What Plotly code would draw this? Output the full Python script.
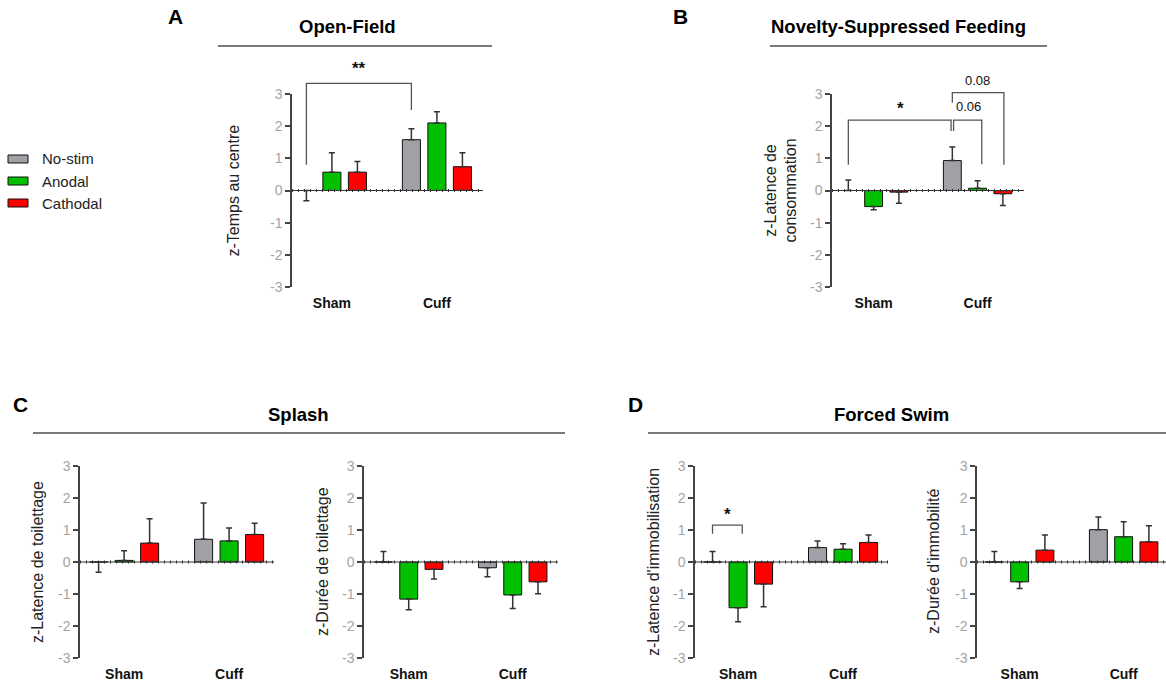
import plotly.graph_objects as go

# ---------------- data ----------------
groups = ["Sham", "Cuff"]
series = ["No-stim", "Anodal", "Cathodal"]

# rows = series (No-stim, Anodal, Cathodal), columns = groups (Sham, Cuff)
open_field_mean = [[0.00, 1.58], [0.57, 2.10], [0.57, 0.74]]
open_field_tip = [[-0.32, 1.92], [1.17, 2.45], [0.90, 1.17]]

nsf_mean = [[0.00, 0.93], [-0.50, 0.07], [-0.05, -0.10]]
nsf_tip = [[0.33, 1.35], [-0.60, 0.30], [-0.40, -0.47]]

splash_lat_mean = [[0.00, 0.71], [0.05, 0.66], [0.59, 0.86]]
splash_lat_tip = [[-0.32, 1.84], [0.35, 1.06], [1.35, 1.21]]

splash_dur_mean = [[0.00, -0.18], [-1.16, -1.03], [-0.23, -0.62]]
splash_dur_tip = [[0.33, -0.46], [-1.49, -1.45], [-0.53, -0.99]]

fst_lat_mean = [[0.00, 0.45], [-1.43, 0.40], [-0.69, 0.61]]
fst_lat_tip = [[0.33, 0.66], [-1.87, 0.57], [-1.40, 0.84]]

fst_dur_mean = [[0.00, 1.01], [-0.62, 0.79], [0.37, 0.63]]
fst_dur_tip = [[0.33, 1.41], [-0.83, 1.26], [0.84, 1.13]]

y_ticks = [-3, -2, -1, 0, 1, 2, 3]
y_tick_text = ["-3", "-2", "-1", "0", "1", "2", "3"]

# ---------------- style ----------------
W, H = 1166, 683
FONT = "Arial, Liberation Sans, sans-serif"
colors = ["#A0A0A6", "#00C000", "#FF0000"]
offsets = [-0.243, 0.0, 0.243]
BAR_W = 0.172
AX_COL = "#444444"
TICK_COL = "#A3A3A3"
BR_COL = "#555555"


def px(x):
    return x / W


def py(y):
    return 1 - y / H


# panel geometry in pixels: axis left, axis right, y of +3, y of -3, x-range left, px per group
panels = [
    dict(name="A", mean=open_field_mean, tip=open_field_tip, xl=292, xr=483, ytop=94, ybot=287, left=-0.38, unit=105,
         ylabel="z-Temps au centre", ylx=233),
    dict(name="B", mean=nsf_mean, tip=nsf_tip, xl=832, xr=1024, ytop=94, ybot=287, left=-0.40, unit=104,
         ylabel="z-Latence de<br>consommation", ylx=780),
    dict(name="Cl", mean=splash_lat_mean, tip=splash_lat_tip, xl=80, xr=274, ytop=466, ybot=658, left=-0.42, unit=105,
         ylabel="z-Latence de toilettage", ylx=37),
    dict(name="Cr", mean=splash_dur_mean, tip=splash_dur_tip, xl=364, xr=558, ytop=466, ybot=658, left=-0.43, unit=104,
         ylabel="z-Durée de toilettage", ylx=322),
    dict(name="Dl", mean=fst_lat_mean, tip=fst_lat_tip, xl=695, xr=888, ytop=466, ybot=658, left=-0.41, unit=105,
         ylabel="z-Latence d'immobilisation", ylx=653),
    dict(name="Dr", mean=fst_dur_mean, tip=fst_dur_tip, xl=977, xr=1166, ytop=466, ybot=658, left=-0.41, unit=104,
         ylabel="z-Durée d'immobilité", ylx=933),
]

fig = go.Figure()
layout = dict(
    template="none",
    width=W, height=H, margin=dict(l=0, r=0, t=0, b=0, pad=0, autoexpand=False),
    paper_bgcolor="white", plot_bgcolor="rgba(0,0,0,0)",
    barmode="overlay", showlegend=False,
    font=dict(family=FONT, color="#222222"),
)
shapes = []
annotations = []


def bar_x(g, s):
    return g + offsets[s]


for i, p in enumerate(panels, start=1):
    xa = "x" if i == 1 else f"x{i}"
    ya = "y" if i == 1 else f"y{i}"
    xrng = [p["left"], p["left"] + (p["xr"] - p["xl"]) / p["unit"]]
    p["xrng"] = xrng
    layout[f"xaxis{i if i > 1 else ''}"] = dict(
        domain=[px(p["xl"]), px(p["xr"])], range=xrng, anchor=ya, automargin=False,
        showline=False, zeroline=False, showgrid=False, ticks="", ticklabelstandoff=6,
        tickvals=list(range(len(groups))), ticktext=groups,
        tickfont=dict(family=FONT, size=14, color="#111111", weight="bold"),
        fixedrange=True,
    )
    layout[f"yaxis{i if i > 1 else ''}"] = dict(
        domain=[py(p["ybot"]), py(p["ytop"])], range=[-3, 3], anchor=xa, automargin=False,
        showline=True, linecolor=AX_COL, linewidth=1.5, zeroline=False, showgrid=False,
        ticks="outside", ticklen=5, tickwidth=1.5, tickcolor=AX_COL,
        tickvals=y_ticks, ticktext=y_tick_text, tickfont=dict(family=FONT, size=14, color=TICK_COL),
        fixedrange=True,
    )
    for s, name in enumerate(series):
        means = p["mean"][s]
        tips = p["tip"][s]
        up = [max(t - m, 0) for m, t in zip(means, tips)]
        dn = [max(m - t, 0) for m, t in zip(means, tips)]
        fig.add_trace(go.Bar(
            x=[bar_x(g, s) for g in range(len(groups))], y=means, width=BAR_W,
            name=name, xaxis=xa, yaxis=ya,
            marker=dict(color=colors[s], line=dict(color="#111111", width=1)),
            error_y=dict(type="data", symmetric=False, array=up, arrayminus=dn,
                         color="#333333", thickness=1.5, width=3),
            hoverinfo="skip",
        ))
    # baseline at zero (dotted GraphPad style)
    shapes.append(dict(type="line", xref=xa, yref=ya, x0=xrng[0], x1=xrng[1], y0=0, y1=0,
                       line=dict(color="#333333", width=1), layer="above"))
    shapes.append(dict(type="line", xref=xa, yref=ya, x0=xrng[0], x1=xrng[1], y0=0, y1=0,
                       line=dict(color="#333333", width=3, dash="1px,5px"), layer="above"))
    # y-axis label
    annotations.append(dict(
        text=p["ylabel"], x=px(p["ylx"]), y=py((p["ytop"] + p["ybot"]) / 2), xref="paper", yref="paper",
        textangle=-90, showarrow=False, xanchor="center", yanchor="middle",
        font=dict(family=FONT, size=16, color="#222222")))

# ---------------- significance brackets (overlay axes, taller range) ----------------
bracket_panels = {0: 7, 1: 8, 4: 9}
for pi, ax in bracket_panels.items():
    p = panels[pi]
    unit = (py(p["ytop"]) - py(p["ybot"])) / 6
    d0 = py(p["ybot"])
    layout[f"xaxis{ax}"] = dict(domain=[px(p["xl"]), px(p["xr"])], range=p["xrng"], anchor=f"y{ax}",
                               visible=False, fixedrange=True, automargin=False)
    layout[f"yaxis{ax}"] = dict(domain=[d0, d0 + unit * 7.4], range=[-3, 4.4], anchor=f"x{ax}",
                               visible=False, fixedrange=True, automargin=False)


def bracket(ax, xs, ys):
    fig.add_trace(go.Scatter(x=xs, y=ys, mode="lines", xaxis=f"x{ax}", yaxis=f"y{ax}",
                             line=dict(color=BR_COL, width=1.3), hoverinfo="skip", showlegend=False))


def btext(ax, x, y, t, size, bold):
    annotations.append(dict(text=t, x=x, y=y, xref=f"x{ax}", yref=f"y{ax}", showarrow=False,
                            font=dict(family=FONT, size=size, color="#111111",
                                      weight="bold" if bold else "normal")))


# A: Sham no-stim vs Cuff no-stim
xa0, xa1 = bar_x(0, 0), bar_x(1, 0)
bracket(7, [xa0, xa0, xa1, xa1], [0.8, 3.33, 3.33, 2.5])
btext(7, (xa0 + xa1) / 2, 3.78, "**", 17, True)

# B
xb0, xb1 = bar_x(0, 0), bar_x(1, 0)
bracket(8, [xb0, xb0, xb1 - 0.012, xb1 - 0.012], [0.8, 2.19, 2.19, 1.85])
btext(8, (xb0 + xb1) / 2, 2.55, "*", 17, True)
xb2 = bar_x(1, 1) + 0.04
bracket(8, [xb1 + 0.012, xb1 + 0.012, xb2, xb2], [1.85, 2.19, 2.19, 0.82])
btext(8, 0.91, 2.62, "0.06", 13, False)
xb3 = bar_x(1, 2) + 0.01
bracket(8, [xb1, xb1, xb3, xb3], [2.73, 3.04, 3.04, 0.8])
btext(8, 1.0, 3.43, "0.08", 13, False)

# D left: Sham no-stim vs Sham anodal
xd0, xd1 = bar_x(0, 0), bar_x(0, 1) + 0.04
bracket(9, [xd0, xd0, xd1, xd1], [0.88, 1.15, 1.15, 0.88])
btext(9, (xd0 + xd1) / 2, 1.5, "*", 17, True)

# ---------------- headings ----------------
heads = [
    ("A", 175, 16, "Open-Field", 347, 26, 218, 492, 46),
    ("B", 680, 16, "Novelty-Suppressed Feeding", 898, 26, 770, 1047, 46),
    ("C", 20, 404, "Splash", 299, 414, 33, 565, 433),
    ("D", 635, 404, "Forced Swim", 891, 414, 648, 1166, 433),
]
for letter, lx, ly, title, tx, ty, l0, l1, lyy in heads:
    annotations.append(dict(text=letter, x=px(lx), y=py(ly), xref="paper", yref="paper", showarrow=False,
                            xanchor="center", yanchor="middle",
                            font=dict(family=FONT, size=21, color="#000000", weight="bold")))
    annotations.append(dict(text=title, x=px(tx), y=py(ty), xref="paper", yref="paper", showarrow=False,
                            xanchor="center", yanchor="middle",
                            font=dict(family=FONT, size=18.5, color="#000000", weight="bold")))
    shapes.append(dict(type="line", xref="paper", yref="paper", x0=px(l0), x1=px(l1), y0=py(lyy), y1=py(lyy),
                       line=dict(color="#7A7A7A", width=2)))

# ---------------- legend ----------------
for s, name in enumerate(series):
    cy = 159 + s * 22
    shapes.append(dict(type="rect", xref="paper", yref="paper", x0=px(8), x1=px(28), y0=py(cy + 4), y1=py(cy - 4),
                       fillcolor=colors[s], line=dict(color="#111111", width=1)))
    annotations.append(dict(text=name, x=px(40), y=py(cy), xref="paper", yref="paper", showarrow=False,
                            xanchor="left", yanchor="middle",
                            font=dict(family=FONT, size=15, color="#222222")))

layout["shapes"] = shapes
layout["annotations"] = annotations
fig.update_layout(**layout)
fig.write_html("out.html", config={"displayModeBar": False},
               post_script="document.body.style.margin='0';document.body.style.overflow='hidden';")
